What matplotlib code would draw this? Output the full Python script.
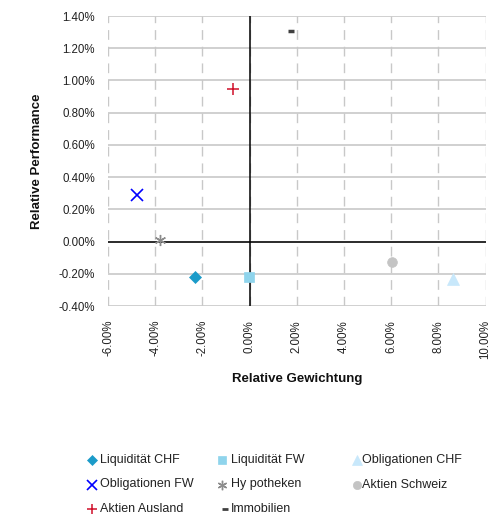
import matplotlib
matplotlib.use("Agg")
import matplotlib.pyplot as plt
from matplotlib.ticker import FuncFormatter, MultipleLocator

plt.rcParams['font.family'] = ['Liberation Sans', 'DejaVu Sans']

names = ["Liquidität CHF", "Liquidität FW", "Obligationen CHF",
         "Obligationen FW", "Hy potheken", "Aktien Schweiz",
         "Aktien Ausland", "Immobilien"]
gewichtung = [-2.30, -0.03, 8.60, -4.78, -3.79, 6.05, -0.70, 1.77]
performance = [-0.22, -0.22, -0.23, 0.29, 0.01, -0.125, 0.95, 1.31]
markers = ["D", "s", "^", "x", (6, 2, 0), "o", "+", "_"]
colors = ["#1b9bc9", "#8fd4ec", "#c8e8fb", "#0000ff", "#8c8c8c", "#c4c4c4", "#d0102a", "#404040"]
sizes = [6, 6.5, 8, 8, 8, 7, 8, 4.5]
mews = [0.5, 0.5, 0.5, 1.2, 1.0, 0.5, 1.1, 2.5]

fig = plt.figure(figsize=(5.0, 5.18), dpi=100)
ax = fig.add_axes([108/500, 1-306/518, (485.6-108)/500, (306-16)/518])

ax.set_xlim(-6, 10)
ax.set_ylim(-0.40, 1.40)
ax.xaxis.set_major_locator(MultipleLocator(2))
ax.yaxis.set_major_locator(MultipleLocator(0.2))
ax.xaxis.set_major_formatter(FuncFormatter(lambda v, p: f"{v:.2f}%"))
ax.yaxis.set_major_formatter(FuncFormatter(lambda v, p: f"{v:.2f}%"))
for s in ax.spines.values():
    s.set_visible(False)
ax.tick_params(axis='both', length=0, labelsize=8.3, colors="#222222")
ax.tick_params(axis='y', pad=9.5)
ax.tick_params(axis='x', pad=10, labelrotation=90)

ax.grid(axis='y', color="#c8c8c8", lw=1.2, ls='-', zorder=0)
ax.grid(axis='x', color="#c8c8c8", lw=1.0, ls=(0, (7, 5)), zorder=0)
ax.axhline(0, color="black", lw=1.1, zorder=1)
ax.axvline(0, color="black", lw=1.1, zorder=1)
ax.set_axisbelow(True)

for i in range(len(names)):
    ax.plot([gewichtung[i]], [performance[i]], ls='none', marker=markers[i],
            color=colors[i], ms=sizes[i], mew=mews[i], mec=colors[i], zorder=3,
            clip_on=False)

ax.set_xlabel("Relative Gewichtung", fontsize=9.5, fontweight='bold', color="#111111")
ax.set_ylabel("Relative Performance", fontsize=9.5, fontweight='bold', color="#111111")
ax.xaxis.set_label_coords(0.5, (306-379)/290)
ax.xaxis.label.set_va('center')
ax.yaxis.set_label_coords((37-108)/377.6, 0.5)
ax.yaxis.label.set_va('center')

# legend drawn in pixel coordinates
lg = fig.add_axes([0, 0, 1, 1])
lg.set_xlim(0, 500)
lg.set_ylim(518, 0)
lg.axis('off')
col_marker_x = [92, 222, 357]
col_text_x = [100, 231, 362]
row_y = [460, 484.5, 509]
for i in range(len(names)):
    r, c = divmod(i, 3)
    mx = col_marker_x[c] + (3 if markers[i] == "_" else 0)
    lg.plot([mx], [row_y[r]], ls='none', marker=markers[i], color=colors[i],
            ms=sizes[i] * 0.85, mew=mews[i] * (0.8 if markers[i] == "_" else 1), mec=colors[i])
    lg.text(col_text_x[c], row_y[r], names[i],
            fontsize=9, va='center', ha='left', color="#222222")

fig.savefig("out.png", dpi=100)
